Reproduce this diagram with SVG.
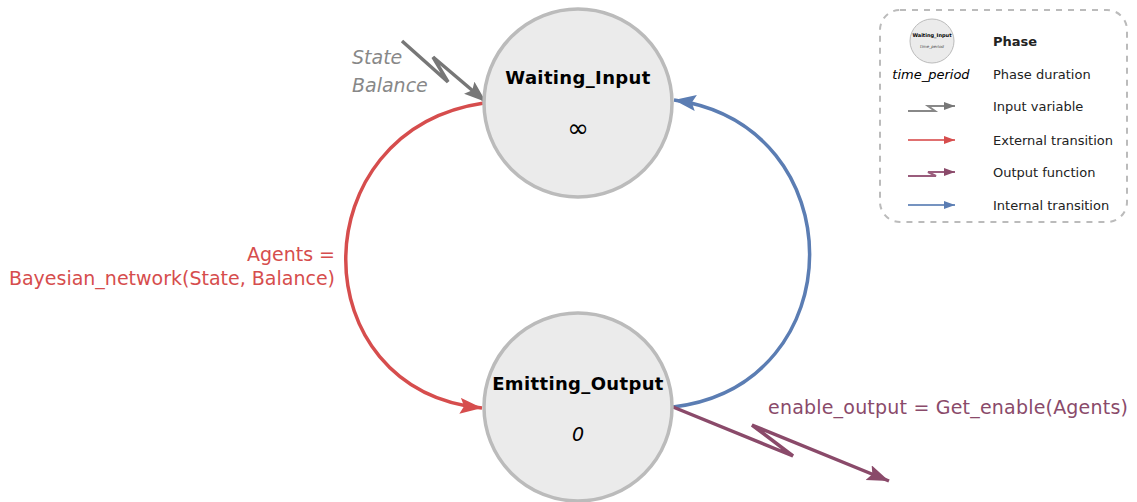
<svg xmlns="http://www.w3.org/2000/svg" width="1137" height="502" viewBox="0 0 1137 502">
<style>
text{font-family:"DejaVu Sans","Liberation Sans",sans-serif}
.phase{fill:#ebebeb;stroke:#bbbbbb;stroke-width:3.5}
.title{font-weight:bold;font-size:18px;fill:#000;text-anchor:middle;letter-spacing:0.35px}
.dur{fill:#000;text-anchor:middle}
.leg{font-size:13px;fill:#222}
.conn{fill:none;stroke-width:3.5}
.lconn{fill:none;stroke-width:2}
</style>
<defs>
<marker id="aRed" markerUnits="userSpaceOnUse" markerWidth="24" markerHeight="18" refX="22" refY="8" orient="auto"><path d="M0,0 L22,8 L0,16 L4,8 z" fill="#d64d4d"/></marker>
<marker id="aBlue" markerUnits="userSpaceOnUse" markerWidth="24" markerHeight="18" refX="22" refY="8" orient="auto"><path d="M0,0 L22,8 L0,16 L4,8 z" fill="#5b7db3"/></marker>
<marker id="aGray" markerUnits="userSpaceOnUse" markerWidth="24" markerHeight="18" refX="22" refY="8" orient="auto"><path d="M0,0 L22,8 L0,16 L4,8 z" fill="#777"/></marker>
<marker id="aPurp" markerUnits="userSpaceOnUse" markerWidth="24" markerHeight="18" refX="22" refY="8" orient="auto"><path d="M0,0 L22,8 L0,16 L4,8 z" fill="#8a4a6a"/></marker>
<marker id="lRed" markerUnits="userSpaceOnUse" markerWidth="12" markerHeight="10" refX="11" refY="4" orient="auto"><path d="M0,0 L11,4 L0,8 z" fill="#d64d4d"/></marker>
<marker id="lBlue" markerUnits="userSpaceOnUse" markerWidth="12" markerHeight="10" refX="11" refY="4" orient="auto"><path d="M0,0 L11,4 L0,8 z" fill="#5b7db3"/></marker>
<marker id="lGray" markerUnits="userSpaceOnUse" markerWidth="12" markerHeight="10" refX="11" refY="4" orient="auto"><path d="M0,0 L11,4 L0,8 z" fill="#777"/></marker>
<marker id="lPurp" markerUnits="userSpaceOnUse" markerWidth="12" markerHeight="10" refX="11" refY="4" orient="auto"><path d="M0,0 L11,4 L0,8 z" fill="#8a4a6a"/></marker>
</defs>

<g id="connectors">
<path class="conn" stroke="#d64d4d" d="M484,103 C300,130 300,390 482,408" marker-end="url(#aRed)"/>
<path class="conn" stroke="#5b7db3" d="M673,407 C855,385 855,125 674,100" marker-end="url(#aBlue)"/>
<path class="conn" stroke="#777" d="M402,41 L448,82 L433,57 L486,102" marker-end="url(#aGray)"/>
<path class="conn" stroke="#8a4a6a" d="M673,407 L793,456 L752,425 L889,481" marker-end="url(#aPurp)"/>
<text x="335" y="261" font-size="19" fill="#d64d4d" text-anchor="end">Agents =</text>
<text x="335" y="285" font-size="19" fill="#d64d4d" text-anchor="end">Bayesian_network(State, Balance)</text>
<text x="352" y="64" font-size="19" font-style="italic" fill="#888">State</text>
<text x="352" y="92" font-size="19" font-style="italic" fill="#888">Balance</text>
<text x="768" y="414" font-size="19" fill="#8a4a6a" letter-spacing="0.2">enable_output = Get_enable(Agents)</text>
</g>

<g id="waiting_input">
<circle class="phase" cx="578" cy="103" r="94"/>
<text class="title" x="578" y="84">Waiting_Input</text>
<text class="dur" x="578" y="137" font-size="26">∞</text>
</g>

<g id="emitting_output">
<circle class="phase" cx="578" cy="407" r="94"/>
<text class="title" x="578" y="390">Emitting_Output</text>
<text class="dur" x="578" y="441" font-style="italic" font-size="19">0</text>
</g>

<g id="legend">
<rect x="880" y="10" width="247" height="212" rx="20" ry="20" fill="none" stroke="#bbb" stroke-width="2" stroke-dasharray="6,6"/>
<circle cx="932" cy="41" r="22" fill="#ebebeb" stroke="#bbb" stroke-width="1"/>
<text x="932" y="37" font-size="5" font-weight="bold" text-anchor="middle">Waiting_Input</text>
<text x="932" y="48" font-size="4" font-style="italic" text-anchor="middle" fill="#444">time_period</text>
<text x="931" y="79" font-size="13" font-style="italic" text-anchor="middle">time_period</text>
<text class="leg" x="993" y="46" font-weight="bold" fill="#000">Phase</text>
<text class="leg" x="993" y="79">Phase duration</text>
<text class="leg" x="993" y="111">Input variable</text>
<text class="leg" x="993" y="145">External transition</text>
<text class="leg" x="993" y="177">Output function</text>
<text class="leg" x="993" y="210">Internal transition</text>
<path class="lconn" stroke="#888" d="M908,111 L935,111 L928,106 L955,106" marker-end="url(#lGray)"/>
<path class="lconn" stroke="#e07070" d="M908,140 L955,140" marker-end="url(#lRed)"/>
<path class="lconn" stroke="#9a5c7c" d="M908,176 L936,176 L928,172 L955,172" marker-end="url(#lPurp)"/>
<path class="lconn" stroke="#7593c0" d="M908,205 L955,205" marker-end="url(#lBlue)"/>
</g>
</svg>
